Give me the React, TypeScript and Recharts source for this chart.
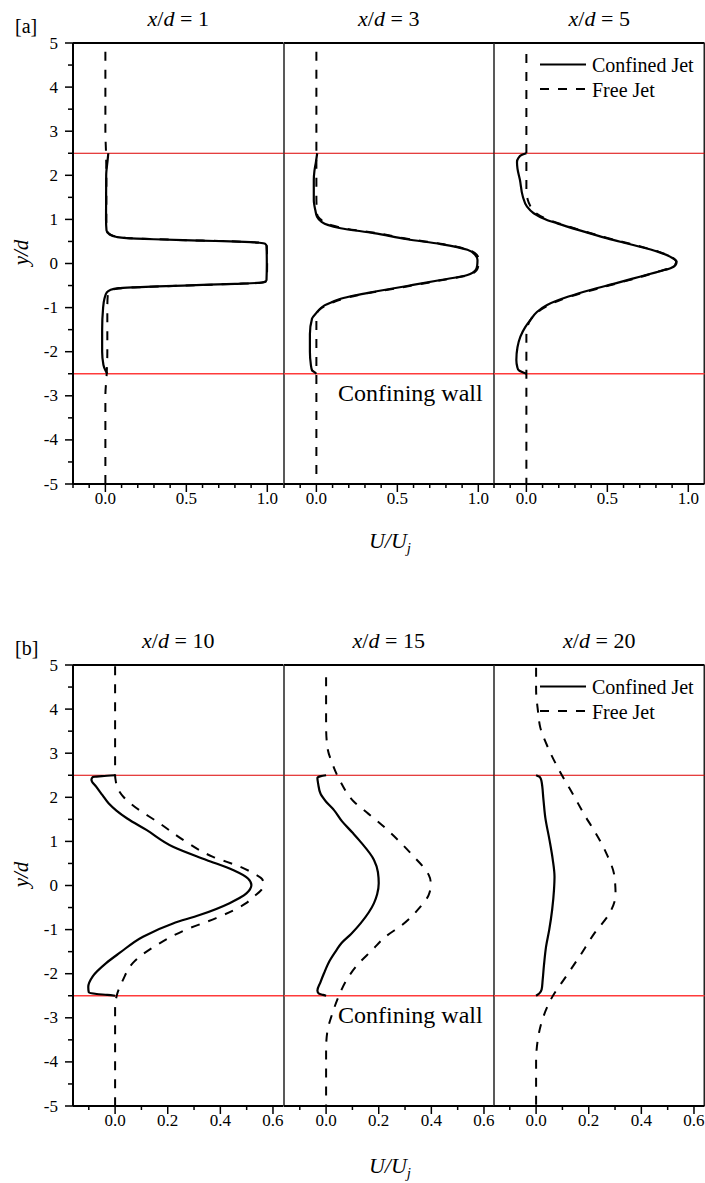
import { Line, LineChart, ReferenceLine, XAxis, YAxis } from 'recharts'

// each point is [y/d, U/Uj]
type Pt = [number, number]

// ---- [a] near field ----
const A1_CONFINED: Pt[] = [
  [2.5, 0.018], [2.35, 0.014], [2.0, 0.005], [1.0, 0.004], [0.75, 0.007], [0.66, 0.025],
  [0.6, 0.07], [0.575, 0.13], [0.55, 0.3], [0.53, 0.48], [0.51, 0.68], [0.49, 0.86],
  [0.47, 0.95], [0.45, 0.985], [0.4, 0.995], [0.0, 0.997], [-0.38, 0.995], [-0.42, 0.98],
  [-0.44, 0.94], [-0.46, 0.8], [-0.48, 0.64], [-0.5, 0.48], [-0.52, 0.32], [-0.54, 0.18],
  [-0.56, 0.08], [-0.6, 0.03], [-0.66, 0.008], [-0.8, -0.006], [-1.0, -0.014], [-1.5, -0.02],
  [-2.0, -0.02], [-2.3, -0.012], [-2.42, 0.0], [-2.5, 0.012],
]
const A1_FREE: Pt[] = [
  [4.8, 0.0], [3.0, 0.0], [2.5, 0.004], [2.0, 0.006], [1.0, 0.006], [0.75, 0.01], [0.66, 0.03],
  [0.6, 0.08], [0.575, 0.15], [0.55, 0.32], [0.53, 0.5], [0.51, 0.7], [0.49, 0.88], [0.47, 0.96],
  [0.45, 0.99], [0.4, 0.997], [0.0, 0.999], [-0.38, 0.997], [-0.42, 0.985], [-0.44, 0.95],
  [-0.46, 0.82], [-0.48, 0.66], [-0.5, 0.5], [-0.52, 0.34], [-0.54, 0.2], [-0.56, 0.1],
  [-0.6, 0.04], [-0.7, 0.015], [-1.0, 0.012], [-2.0, 0.012], [-2.5, 0.008], [-3.0, 0.0], [-5.0, 0.0],
]
const A3_CONFINED: Pt[] = [
  [2.5, 0.005], [2.3, -0.003], [2.1, -0.012], [1.9, -0.016], [1.44, -0.016], [1.2, -0.006],
  [1.06, 0.004], [0.95, 0.03], [0.875, 0.07], [0.8, 0.15], [0.69, 0.355], [0.55, 0.56],
  [0.44, 0.768], [0.31, 0.933], [0.2, 0.98], [0.08, 0.995], [-0.05, 0.993], [-0.15, 0.983],
  [-0.26, 0.933], [-0.375, 0.768], [-0.51, 0.56], [-0.64, 0.355], [-0.72, 0.24], [-0.8, 0.15],
  [-0.87, 0.1], [-0.95, 0.05], [-1.02, 0.025], [-1.12, 0.0], [-1.25, -0.027], [-1.6, -0.04],
  [-2.0, -0.04], [-2.3, -0.034], [-2.42, -0.027], [-2.47, -0.01], [-2.5, 0.0],
]
const A3_FREE: Pt[] = [
  [4.8, 0.0], [2.5, 0.0], [1.5, 0.0], [1.12, 0.004], [1.02, 0.02], [0.93, 0.055], [0.86, 0.1],
  [0.8, 0.17], [0.69, 0.37], [0.55, 0.58], [0.44, 0.78], [0.31, 0.94], [0.2, 0.99], [0.08, 1.003],
  [-0.05, 1.0], [-0.15, 0.99], [-0.26, 0.94], [-0.375, 0.78], [-0.51, 0.575], [-0.64, 0.37],
  [-0.72, 0.255], [-0.8, 0.165], [-0.9, 0.09], [-1.0, 0.035], [-1.1, 0.008], [-1.25, 0.0], [-5.0, 0.0],
]
const A5_CONFINED: Pt[] = [
  [2.5, 0.0], [2.46, -0.03], [2.4, -0.048], [2.3, -0.058], [2.15, -0.055], [1.9, -0.04],
  [1.52, -0.022], [1.29, 0.004], [1.14, 0.045], [1.0, 0.12], [0.91, 0.19], [0.75, 0.33],
  [0.57, 0.5], [0.42, 0.66], [0.27, 0.81], [0.15, 0.89], [0.04, 0.928], [-0.04, 0.92],
  [-0.11, 0.89], [-0.2, 0.8], [-0.3, 0.7], [-0.45, 0.55], [-0.6, 0.395], [-0.75, 0.26],
  [-0.94, 0.128], [-1.1, 0.065], [-1.28, 0.025], [-1.45, -0.008], [-1.66, -0.037], [-1.9, -0.055],
  [-2.19, -0.062], [-2.35, -0.056], [-2.42, -0.047], [-2.47, -0.02], [-2.5, 0.0],
]
const A5_FREE: Pt[] = [
  [4.75, 0.0], [2.5, 0.0], [1.7, 0.0], [1.45, 0.008], [1.3, 0.025], [1.14, 0.06], [1.0, 0.13],
  [0.91, 0.2], [0.75, 0.34], [0.57, 0.51], [0.42, 0.67], [0.27, 0.815], [0.15, 0.895], [0.04, 0.925],
  [-0.04, 0.915], [-0.11, 0.88], [-0.2, 0.8], [-0.3, 0.71], [-0.45, 0.56], [-0.6, 0.41], [-0.75, 0.27],
  [-0.94, 0.14], [-1.1, 0.07], [-1.28, 0.025], [-1.45, 0.006], [-1.65, 0.0], [-5.0, 0.0],
]

// ---- [b] far field ----
const B10_CONFINED: Pt[] = [
  [2.5, 0.0], [2.48, -0.05], [2.46, -0.085], [2.4, -0.09], [2.24, -0.072], [2.05, -0.048],
  [1.86, -0.024], [1.7, 0.005], [1.52, 0.046], [1.26, 0.119], [0.88, 0.22], [0.58, 0.347],
  [0.35, 0.448], [0.16, 0.505], [0.01, 0.518], [-0.18, 0.499], [-0.4, 0.435], [-0.67, 0.321],
  [-0.86, 0.22], [-1.16, 0.106], [-1.53, 0.017], [-1.76, -0.034], [-2.06, -0.085], [-2.3, -0.102],
  [-2.42, -0.1], [-2.46, -0.07], [-2.48, -0.03], [-2.5, 0.0],
]
const B10_FREE: Pt[] = [
  [4.97, 0.0], [2.5, 0.0], [2.35, 0.003], [2.2, 0.01], [2.0, 0.033], [1.82, 0.067], [1.41, 0.169],
  [0.99, 0.27], [0.65, 0.372], [0.43, 0.473], [0.28, 0.525], [0.15, 0.558], [0.03, 0.565],
  [-0.1, 0.556], [-0.25, 0.528], [-0.4, 0.498], [-0.74, 0.384], [-1.0, 0.27], [-1.31, 0.169],
  [-1.76, 0.067], [-2.14, 0.03], [-2.5, 0.006], [-2.8, 0.0], [-5.0, 0.0],
]
const B15_CONFINED: Pt[] = [
  [2.5, 0.0], [2.48, -0.02], [2.44, -0.033], [2.3, -0.03], [2.08, -0.021], [1.9, 0.0], [1.71, 0.03],
  [1.46, 0.06], [1.2, 0.1], [0.99, 0.131], [0.58, 0.182], [0.3, 0.197], [0.05, 0.2], [-0.2, 0.194],
  [-0.4, 0.182], [-0.86, 0.131], [-1.1, 0.095], [-1.31, 0.058], [-1.46, 0.04], [-1.7, 0.014],
  [-1.99, -0.008], [-2.2, -0.022], [-2.38, -0.033], [-2.45, -0.028], [-2.48, -0.012], [-2.5, 0.0],
]
const B15_FREE: Pt[] = [
  [4.72, 0.0], [3.6, 0.0], [3.13, 0.005], [2.76, 0.024], [2.35, 0.055], [1.9, 0.106], [1.63, 0.16],
  [1.33, 0.22], [0.99, 0.28], [0.65, 0.334], [0.4, 0.372], [0.24, 0.39], [0.1, 0.397], [-0.03, 0.397],
  [-0.21, 0.39], [-0.52, 0.353], [-0.89, 0.29], [-1.16, 0.226], [-1.46, 0.176], [-1.8, 0.119],
  [-2.18, 0.074], [-2.48, 0.05], [-2.88, 0.025], [-3.34, 0.004], [-3.7, 0.0], [-5.0, 0.0],
]
const B20_CONFINED: Pt[] = [
  [2.5, 0.0], [2.46, 0.014], [2.38, 0.02], [1.94, 0.028], [1.54, 0.035], [1.03, 0.051], [0.6, 0.063],
  [0.2, 0.07], [-0.1, 0.068], [-0.55, 0.061], [-1.0, 0.05], [-1.38, 0.038], [-1.8, 0.03],
  [-2.14, 0.025], [-2.36, 0.021], [-2.45, 0.012], [-2.5, 0.0],
]
const B20_FREE: Pt[] = [
  [4.94, 0.0], [4.45, 0.0], [3.96, 0.007], [3.58, 0.016], [3.13, 0.045], [2.6, 0.089], [2.07, 0.14],
  [1.54, 0.19], [1.33, 0.212], [0.73, 0.267], [0.2, 0.298], [-0.21, 0.302], [-0.63, 0.279],
  [-1.08, 0.222], [-1.61, 0.165], [-2.06, 0.114], [-2.52, 0.062], [-2.97, 0.028], [-3.34, 0.011],
  [-4.0, 0.0], [-5.0, 0.0],
]

// ---- axes / labels ----
const A_STATIONS = ['1', '3', '5']
const B_STATIONS = ['10', '15', '20']
const A_X_DOMAIN: [number, number] = [-0.2, 1.1]
const B_X_DOMAIN: [number, number] = [-0.16, 0.64]
const A_X_TICKS = [-0.2, -0.1, 0, 0.1, 0.2, 0.3, 0.4, 0.5, 0.6, 0.7, 0.8, 0.9, 1.0]
const A_X_LABELS = [0, 0.5, 1.0]
const B_X_TICKS = [-0.1, 0, 0.1, 0.2, 0.3, 0.4, 0.5, 0.6]
const B_X_LABELS = [0, 0.2, 0.4, 0.6]
const Y_TICKS = [-5, -4.5, -4, -3.5, -3, -2.5, -2, -1.5, -1, -0.5, 0, 0.5, 1, 1.5, 2, 2.5, 3, 3.5, 4, 4.5, 5]
const Y_LABELS = [-5, -4, -3, -2, -1, 0, 1, 2, 3, 4, 5]
const WALLS = [2.5, -2.5]
const SERIES_NAMES = ['Confined Jet', 'Free Jet']
const WALL_NOTE = 'Confining wall'

// ---- layout ----
const FONT = '"Liberation Serif", "Times New Roman", serif'
const PANEL_X = [73, 283.5, 494, 704.5]
const FIG_A = { top: 43, bottom: 484, tag: '[a]', xLabelY: 548 }
const FIG_B = { top: 665, bottom: 1106, tag: '[b]', xLabelY: 1173 }
const PAD = 14
const Y_AXIS_W = 50
const X_AXIS_H = 34
const DASH = '9 9'

const has = (list: number[], v: number) => list.some((l) => Math.abs(l - v) < 1e-9)
const rows = (pts: Pt[]) => pts.map(([y, u]) => ({ y, u }))

function renderXTick(props: any, labels: number[]) {
  const { x, y, payload } = props
  const v = payload.value as number
  const major = has(labels, v)
  return (
    <g>
      <line x1={x} x2={x} y1={y} y2={y + (major ? 8 : 4)} stroke="#000" strokeWidth={1.5} />
      {major && (
        <text x={x} y={y + 19.5} textAnchor="middle" fontSize={17} fontFamily={FONT} fill="#000">
          {v.toFixed(1)}
        </text>
      )}
    </g>
  )
}

function renderYTick(props: any) {
  const { x, y, payload } = props
  const v = payload.value as number
  const major = has(Y_LABELS, v)
  return (
    <g>
      <line x1={x - (major ? 8 : 5)} x2={x} y1={y} y2={y} stroke="#000" strokeWidth={1.5} />
      {major && (
        <text x={x - 15} y={y} textAnchor="end" dominantBaseline="central" fontSize={17} fontFamily={FONT} fill="#000">
          {String(v)}
        </text>
      )}
    </g>
  )
}

interface PanelProps {
  x0: number
  x1: number
  top: number
  bottom: number
  domain: [number, number]
  ticks: number[]
  labels: number[]
  confined: Pt[]
  free: Pt[]
  first: boolean
  last: boolean
}

function Panel({ x0, x1, top, bottom, domain, ticks, labels, confined, free, first, last }: PanelProps) {
  const yW = first ? Y_AXIS_W : 0
  const w = x1 - x0
  const h = bottom - top
  return (
    <div style={{ position: 'absolute', left: x0 - PAD - yW, top: top - PAD }}>
      <LineChart
        layout="vertical"
        width={w + yW + 2 * PAD}
        height={h + X_AXIS_H + 2 * PAD}
        margin={{ top: PAD, right: PAD, bottom: PAD, left: PAD }}
      >
        <XAxis
          type="number"
          domain={domain}
          allowDataOverflow
          ticks={ticks}
          interval={0}
          height={X_AXIS_H}
          tickSize={0}
          tickMargin={0}
          tickLine={false}
          axisLine={{ stroke: '#000', strokeWidth: 2 }}
          tick={(p: any) => renderXTick(p, labels)}
        />
        <YAxis
          type="number"
          dataKey="y"
          domain={[-5, 5]}
          reversed
          allowDataOverflow
          ticks={Y_TICKS}
          interval={0}
          hide={!first}
          width={Y_AXIS_W}
          tickSize={0}
          tickMargin={0}
          tickLine={false}
          axisLine={{ stroke: '#000', strokeWidth: 2 }}
          tick={renderYTick}
        />
        <ReferenceLine y={5} stroke="#000" strokeWidth={2} ifOverflow="visible" />
        {!first && <ReferenceLine x={domain[0]} stroke="#222" strokeWidth={1.5} ifOverflow="visible" />}
        {last && <ReferenceLine x={domain[1]} stroke="#222" strokeWidth={2} ifOverflow="visible" />}
        <ReferenceLine y={WALLS[0]} stroke="#dd0000" strokeWidth={1} ifOverflow="visible" />
        <ReferenceLine y={WALLS[1]} stroke="#ff3b3b" strokeWidth={1.5} ifOverflow="visible" />
        <Line
          data={rows(confined)}
          dataKey="u"
          type="monotone"
          stroke="#000"
          strokeWidth={2.2}
          dot={false}
          activeDot={false}
          isAnimationActive={false}
        />
        <Line
          data={rows(free)}
          dataKey="u"
          type="monotone"
          stroke="#000"
          strokeWidth={2}
          strokeDasharray={DASH}
          dot={false}
          activeDot={false}
          isAnimationActive={false}
        />
      </LineChart>
    </div>
  )
}

function FigureLabels({ fig, stations }: { fig: typeof FIG_A; stations: string[] }) {
  const y0 = (fig.top + fig.bottom) / 2
  const wallY = fig.top + ((5 - WALLS[1]) / 10) * (fig.bottom - fig.top)
  const lx0 = 540
  const lx1 = 586
  return (
    <g fontFamily={FONT} fill="#000">
      <text x={15} y={fig.top - 10} fontSize={20}>{fig.tag}</text>
      {stations.map((s, i) => (
        <text key={s} x={(PANEL_X[i] + PANEL_X[i + 1]) / 2} y={fig.top - 17} textAnchor="middle" fontSize={22}>
          <tspan fontStyle="italic">x</tspan>/<tspan fontStyle="italic">d</tspan> = {s}
        </text>
      ))}
      <text
        x={27.5}
        y={y0 - 11}
        textAnchor="middle"
        fontSize={21}
        fontStyle="italic"
        transform={`rotate(-90, 27.5, ${y0 - 11})`}
      >
        y/d
      </text>
      <text x={390} y={fig.xLabelY} textAnchor="middle" fontSize={22} fontStyle="italic">
        U/U<tspan fontSize={15} dy={5}>j</tspan>
      </text>
      <text x={338} y={wallY + 27} fontSize={24}>{WALL_NOTE}</text>
      <line x1={lx0} x2={lx1} y1={fig.top + 21.5} y2={fig.top + 21.5} stroke="#000" strokeWidth={2.2} />
      <text x={592} y={fig.top + 28.5} fontSize={20}>{SERIES_NAMES[0]}</text>
      <line x1={lx0} x2={lx1} y1={fig.top + 46} y2={fig.top + 46} stroke="#000" strokeWidth={2} strokeDasharray={DASH} />
      <text x={592} y={fig.top + 53.5} fontSize={20}>{SERIES_NAMES[1]}</text>
    </g>
  )
}

const A_SERIES = [
  [A1_CONFINED, A1_FREE],
  [A3_CONFINED, A3_FREE],
  [A5_CONFINED, A5_FREE],
]
const B_SERIES = [
  [B10_CONFINED, B10_FREE],
  [B15_CONFINED, B15_FREE],
  [B20_CONFINED, B20_FREE],
]

export default function App() {
  const figs = [
    { fig: FIG_A, series: A_SERIES, domain: A_X_DOMAIN, ticks: A_X_TICKS, labels: A_X_LABELS },
    { fig: FIG_B, series: B_SERIES, domain: B_X_DOMAIN, ticks: B_X_TICKS, labels: B_X_LABELS },
  ]
  return (
    <div
      style={{
        position: 'absolute',
        left: 0,
        top: 0,
        width: 705,
        height: 1183,
        overflow: 'hidden',
        background: '#fff',
      }}
    >
      {figs.map(({ fig, series, domain, ticks, labels }) =>
        series.map(([confined, free], i) => (
          <Panel
            key={`${fig.tag}-${i}`}
            x0={PANEL_X[i]}
            x1={PANEL_X[i + 1]}
            top={fig.top}
            bottom={fig.bottom}
            domain={domain}
            ticks={ticks}
            labels={labels}
            confined={confined}
            free={free}
            first={i === 0}
            last={i === 2}
          />
        ))
      )}
      <svg width={705} height={1183} style={{ position: 'absolute', left: 0, top: 0, pointerEvents: 'none' }}>
        <FigureLabels fig={FIG_A} stations={A_STATIONS} />
        <FigureLabels fig={FIG_B} stations={B_STATIONS} />
      </svg>
    </div>
  )
}
